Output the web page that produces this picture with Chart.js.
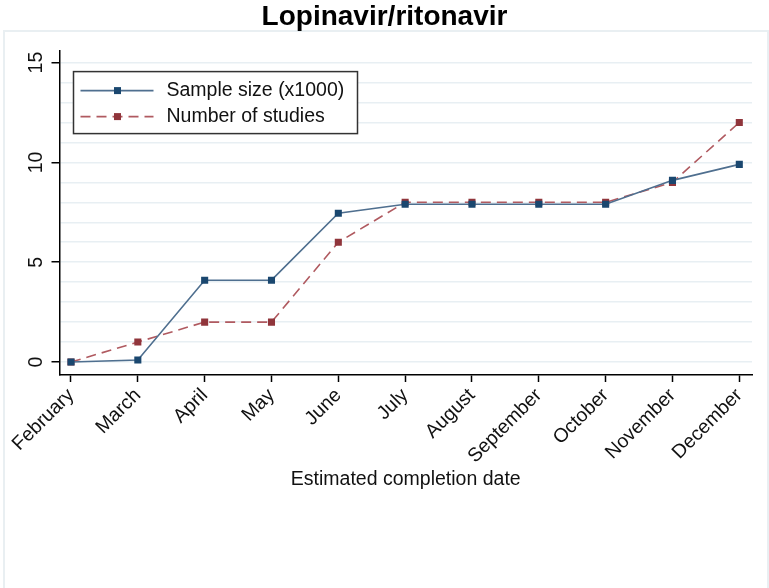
<!DOCTYPE html>
<html>
<head>
<meta charset="utf-8">
<script src="https://cdn.jsdelivr.net/npm/chart.js@4"></script>
<style>
  html, body { margin: 0; padding: 0; background: #fff; }
  #wrap { width: 769px; height: 588px; }
</style>
</head>
<body>
<div id="wrap"><canvas id="chart" width="769" height="588"></canvas></div>
<script>
// Data
const months = ["February", "March", "April", "May", "June", "July",
  "August", "September", "October", "November", "December"];
const sampleSize = [0, 0.1, 4.1, 4.1, 7.45, 7.9, 7.9, 7.9, 7.9, 9.1, 9.9];
const numStudies = [0, 1, 2, 2, 6, 8, 8, 8, 8, 9, 12];
const yTicks = [0, 5, 10, 15];

const FONT = "'Liberation Sans', Arial, sans-serif";
const FS = 19.5;
const navy = "#1a476f";
const maroon = "#90353b";

// light frame around the whole graph region
const framePlugin = {
  id: "frame",
  beforeDraw(chart) {
    const c = chart.ctx;
    c.save();
    c.strokeStyle = "#e9eff2";
    c.lineWidth = 2;
    c.strokeRect(4, 31, chart.width - 5, chart.height - 30);
    c.restore();
  }
};

// Stata-like legend box inside the plot region
const legendBox = {
  id: "legendBox",
  afterDraw(chart) {
    const c = chart.ctx;
    const a = chart.chartArea;
    const x0 = a.left + 14, y0 = a.top + 21;
    c.save();
    c.fillStyle = "#fff";
    c.fillRect(x0, y0, 284, 62);
    c.strokeStyle = "#333";
    c.lineWidth = 1.5;
    c.strokeRect(x0, y0, 284, 62);
    chart.data.datasets.forEach((ds, i) => {
      const y = y0 + 19 + i * 26;
      c.strokeStyle = ds.borderColor;
      c.lineWidth = ds.borderWidth;
      c.setLineDash(ds.borderDash || []);
      c.beginPath();
      c.moveTo(x0 + 7, y);
      c.lineTo(x0 + 80, y);
      c.stroke();
      c.setLineDash([]);
      c.fillStyle = ds.pointBackgroundColor;
      c.fillRect(x0 + 44 - 3.5, y - 3.5, 7, 7);
      c.fillStyle = "#111";
      c.font = FS + "px " + FONT;
      c.textBaseline = "middle";
      c.textAlign = "left";
      c.fillText(ds.label, x0 + 93, y);
    });
    c.restore();
  }
};

new Chart(document.getElementById("chart"), {
  type: "line",
  data: {
    datasets: [
      {
        label: "Sample size (x1000)",
        data: months.map((m, i) => ({ x: i, y: sampleSize[i] })),
        borderColor: "#4f6f8f",
        borderWidth: 1.6,
        pointStyle: "rect",
        pointRadius: 5,
        pointBackgroundColor: navy,
        pointBorderWidth: 0,
        tension: 0
      },
      {
        label: "Number of studies",
        data: months.map((m, i) => ({ x: i, y: numStudies[i] })),
        borderColor: "#b05a60",
        borderWidth: 1.6,
        borderDash: [10, 6],
        pointStyle: "rect",
        pointRadius: 5,
        pointBackgroundColor: maroon,
        pointBorderWidth: 0,
        tension: 0
      }
    ]
  },
  options: {
    responsive: false,
    animation: false,
    layout: { padding: { left: 0, right: 0, top: 0, bottom: 93 } },
    plugins: {
      legend: { display: false },
      tooltip: { enabled: false },
      title: {
        display: true,
        text: "Lopinavir/ritonavir",
        color: "#000",
        font: { family: FONT, size: 28, weight: "bold" },
        padding: { top: 0, bottom: 17 }
      }
    },
    scales: {
      x: {
        type: "linear",
        min: -0.172,
        max: 10.19,
        afterFit: (s) => { s.height = 120; s.paddingRight = 17; },
        ticks: {
          stepSize: 1,
          autoSkip: false,
          includeBounds: false,
          minRotation: 45,
          maxRotation: 45,
          padding: 2,
          color: "#111",
          font: { family: FONT, size: FS },
          callback: (v) => months[v] || ""
        },
        grid: {
          drawOnChartArea: false,
          tickLength: 7,
          tickColor: "#000",
          tickWidth: 1.5
        },
        border: { color: "#000", width: 1.5 },
        title: {
          display: true,
          text: "Estimated completion date",
          color: "#111",
          font: { family: FONT, size: FS },
          padding: { top: 0, bottom: 4 }
        }
      },
      y: {
        min: -0.65,
        max: 15.6,
        afterFit: (s) => { s.width = 59.5; },
        ticks: {
          stepSize: 1,
          autoSkip: false,
          includeBounds: false,
          minRotation: 90,
          maxRotation: 90,
          crossAlign: "center",
          padding: 4,
          color: "#111",
          font: { family: FONT, size: FS },
          callback: (v) => (yTicks.includes(v) ? v : "")
        },
        grid: {
          color: "#e8eff3",
          lineWidth: 1.5,
          tickLength: 8,
          tickWidth: 1.5,
          tickColor: (ctx) => (ctx.tick && yTicks.includes(ctx.tick.value) ? "#000" : "rgba(0,0,0,0)")
        },
        border: { color: "#000", width: 1.5 }
      }
    }
  },
  plugins: [framePlugin, legendBox]
});
</script>
</body>
</html>
